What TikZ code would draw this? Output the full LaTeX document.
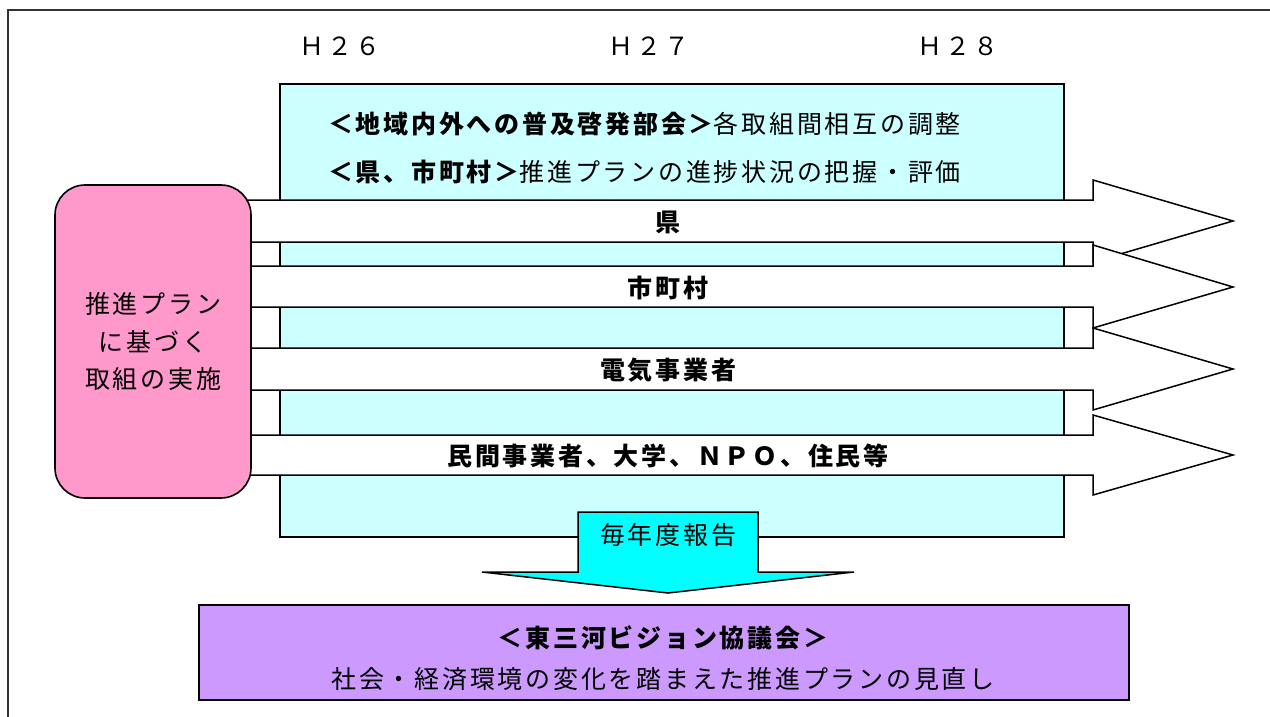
\documentclass[tikz,border=0pt]{standalone}
\usepackage{fontspec}
\newfontfamily\jp[LetterSpace=11]{Noto Sans CJK JP}
\definecolor{cyanbox}{HTML}{CCFFFF}
\definecolor{pinkbox}{HTML}{FF99CC}
\definecolor{purplebox}{HTML}{CC99FF}
\definecolor{downarrow}{HTML}{00FFFF}
\tikzset{
  jptext/.style={font=\jp\fontsize{25}{30}\selectfont, inner sep=0pt},
  jpbold/.style={font=\jp\bfseries\fontsize{25}{30}\selectfont, inner sep=0pt},
  boxline/.style={draw=black, line width=1.6pt},
  bandarrow/.style={draw=black, line width=1.5pt, fill=white, line join=miter},
}
\begin{document}
\begin{tikzpicture}[x=1pt,y=-1pt]
\useasboundingbox (0,0) rectangle (1270,717);
\clip (0,0) rectangle (1270,717);
% outer frame
\draw[line width=1.6pt, draw=black!80] (8,10) rectangle (1300,760);
% year labels
\node[jptext] (h26) at (340,46) {Ｈ２６};
\node[jptext] (h27) at (649,46) {Ｈ２７};
\node[jptext] (h28) at (958,46) {Ｈ２８};
% cyan box
\draw[boxline, fill=cyanbox] (280,84) rectangle (1064,537);
\coordinate (cyanNW) at (280,84);
\node[jptext, anchor=west] (l1) at (328,124) {{\bfseries ＜地域内外への普及啓発部会＞}各取組間相互の調整};
\node[jptext, anchor=west] (l2) at (328,172) {{\bfseries ＜県、市町村＞}推進プランの進捗状況の把握・評価};
% band arrows
\draw[bandarrow] (230,200) -- (1093,200) -- (1093,180) -- (1233,221) -- (1093,262) -- (1093,242) -- (230,242) -- cycle;
\node[jpbold] (a1) at (668,222) {県};
\draw[bandarrow] (230,266) -- (1093,266) -- (1093,245) -- (1233,287) -- (1093,328) -- (1093,307) -- (230,307) -- cycle;
\node[jpbold] (a2) at (668,288) {市町村};
\draw[bandarrow] (230,348) -- (1093,348) -- (1093,328) -- (1233,369) -- (1093,410) -- (1093,390) -- (230,390) -- cycle;
\node[jpbold] (a3) at (668,370) {電気事業者};
\draw[bandarrow] (230,435) -- (1093,435) -- (1093,415) -- (1233,455) -- (1093,495) -- (1093,475) -- (230,475) -- cycle;
\node[jpbold] (a4) at (668,456) {民間事業者、大学、ＮＰＯ、住民等};
% pink box
\node[boxline, fill=pinkbox, rounded corners=30pt, minimum width=196pt, minimum height=313pt, inner sep=0pt] (pink) at (153,341.5) {};
\node[jptext, align=center, font=\jp\fontsize{25}{37.5}\selectfont] (pinktext) at (pink.center) {推進プラン\\に基づく\\取組の実施};
% down arrow
\draw[draw=black, line width=1.5pt, fill=downarrow, line join=miter] (578,512) -- (758,512) -- (758,572) -- (854,572) -- (668,593) -- (482,572) -- (578,572) -- cycle;
\node[jptext] (report) at (668,535) {毎年度報告};
% purple box
\node[boxline, fill=purplebox, minimum width=930pt, minimum height=95pt, inner sep=0pt, anchor=north west] (purple) at (198,604) {};
\node[jpbold] (p1) at (663,638) {＜東三河ビジョン協議会＞};
\node[jptext] (p2) at (663,679) {社会・経済環境の変化を踏まえた推進プランの見直し};
\end{tikzpicture}
\end{document}
